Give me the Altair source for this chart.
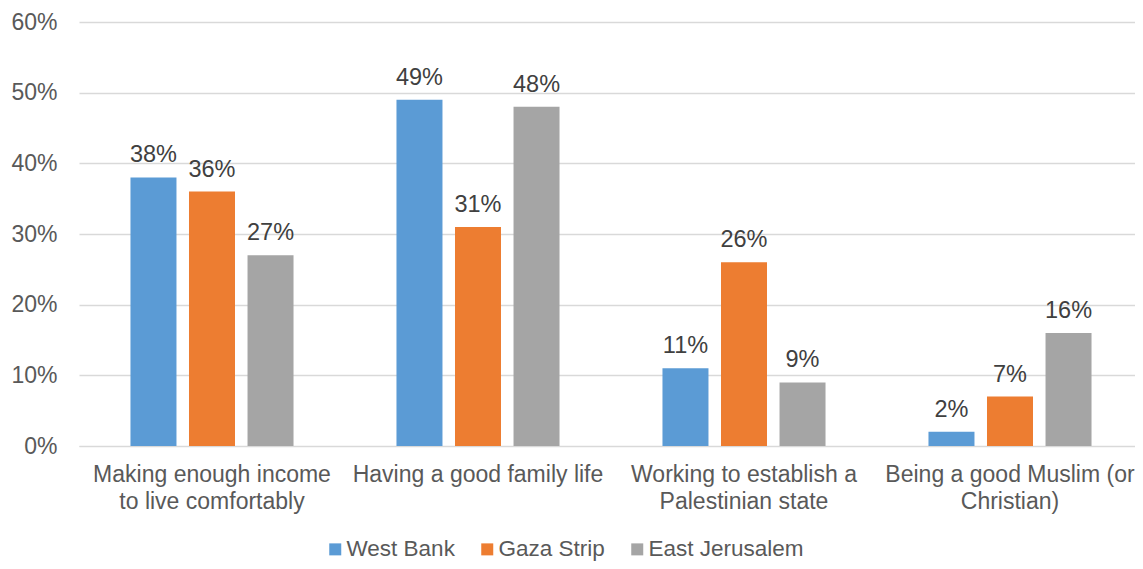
import altair as alt
import pandas as pd

categories = [
    "Making enough income\nto live comfortably",
    "Having a good family life",
    "Working to establish a\nPalestinian state",
    "Being a good Muslim (or\nChristian)",
]
series = ["West Bank", "Gaza Strip", "East Jerusalem"]
west_bank = [38, 49, 11, 2]
gaza_strip = [36, 31, 26, 7]
east_jerusalem = [27, 48, 9, 16]
colors = ["#5B9BD5", "#ED7D31", "#A5A5A5"]
y_ticks = [0, 10, 20, 30, 40, 50, 60]

rows = []
for i, c in enumerate(categories):
    for s, vals in zip(series, [west_bank, gaza_strip, east_jerusalem]):
        rows.append({"category": c, "series": s, "value": vals[i]})
df = pd.DataFrame(rows)

FONT = "Liberation Sans"
TEXT = "#595959"
GRID = "#d9d9d9"

base = alt.Chart(df).transform_calculate(
    label="datum.value + '%'"
).encode(
    x=alt.X(
        "category:N",
        sort=categories,
        scale=alt.Scale(paddingInner=0.387, paddingOuter=0.1935, range=[0, 1064]),
        axis=alt.Axis(
            title=None,
            labelAngle=0,
            labelExpr="split(datum.label, '\\n')",
            labelFont=FONT,
            labelFontSize=23,
            labelColor=TEXT,
            labelLineHeight=27,
            labelPadding=17,
            labelLimit=500,
            labelOverlap=False,
            labelBound=False,
            ticks=False,
            domain=True,
            domainColor=GRID,
            domainWidth=1,
        ),
    ),
    xOffset=alt.XOffset(
        "series:N",
        sort=series,
        scale=alt.Scale(paddingInner=0.214, paddingOuter=0),
    ),
    y=alt.Y(
        "value:Q",
        scale=alt.Scale(domain=[0, 60]),
        axis=alt.Axis(
            title=None,
            values=y_ticks,
            labelExpr="datum.value + '%'",
            labelFont=FONT,
            labelFontSize=23,
            labelColor=TEXT,
            labelPadding=22,
            ticks=False,
            domain=False,
            grid=True,
            gridColor=GRID,
            gridWidth=1.3,
        ),
    ),
)

bars = base.mark_bar().encode(
    color=alt.Color(
        "series:N",
        sort=series,
        scale=alt.Scale(domain=series, range=colors),
        legend=alt.Legend(
            title=None,
            orient="none",
            legendX=245,
            legendY=516,
            direction="horizontal",
            symbolType="square",
            symbolSize=144,
            symbolStrokeWidth=0,
            labelFont=FONT,
            labelFontSize=22.5,
            labelColor=TEXT,
            labelOffset=0,
            columnPadding=21,
        ),
    )
)

text = base.mark_text(
    baseline="alphabetic", dy=-15, font=FONT, fontSize=23.5, color="#404040"
).encode(text="label:N")

chart = (
    alt.layer(bars, text)
    .properties(
        width=1056,
        height=424,
        autosize=alt.AutoSizeParams(type="none"),
        padding={"left": 71, "top": 14, "right": 0, "bottom": 115},
    )
    .configure_view(stroke=None)
)

chart.save("out.html", embed_options={"renderer": "svg", "actions": False})
